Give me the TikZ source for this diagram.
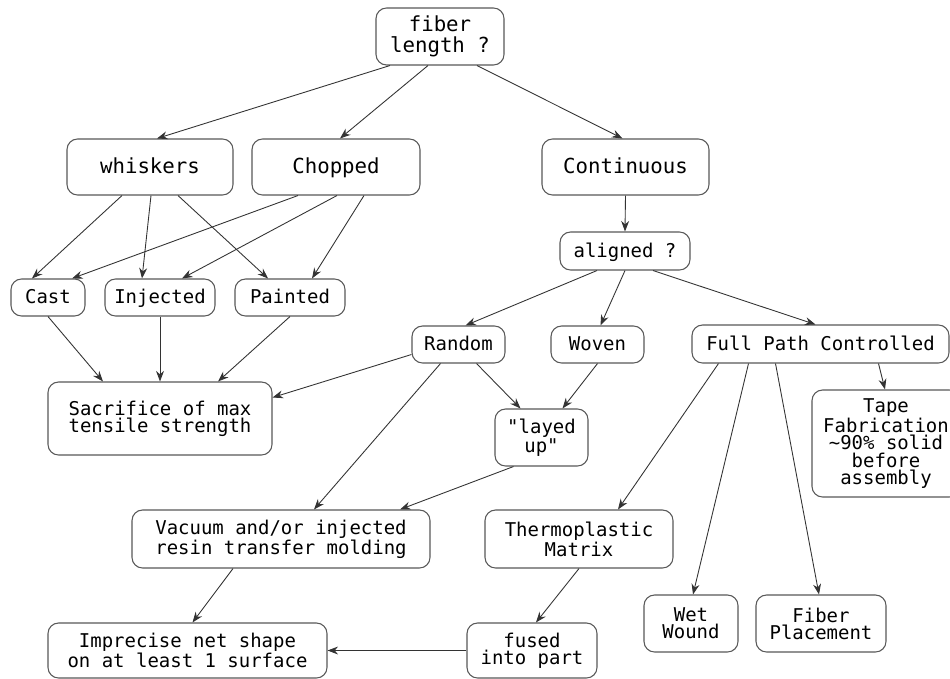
\documentclass[tikz,border=0pt]{standalone}
\usepackage{fontspec}
\usepackage{tikz}
\usetikzlibrary{calc,arrows.meta}
\newfontfamily\monofont{DejaVu Sans Mono}
\newcommand{\bigfont}{\monofont\fontsize{11.8}{12}\selectfont}
\newcommand{\boxfont}{\monofont\fontsize{10.8}{9.7}\selectfont}

\tikzset{
  box/.style={draw=black!65, line width=0.6pt, rounded corners=6pt, align=center,
    inner sep=0pt, fill=white, font=\boxfont},
  bigbox/.style={box, font=\bigfont},
  oneline/.style={text height=0.9em, text depth=0.2em},
  wh/.style 2 args={minimum width=#1*0.02cm, minimum height=#2*0.02cm},
  link/.style={draw=black!80, line width=0.5pt, -{Stealth[length=6pt,width=4.5pt]}}
}

\begin{document}
\begin{tikzpicture}[x=0.02cm,y=-0.02cm]
\clip (0,0) rectangle (950,679);
\fill[white] (0,0) rectangle (950,679);
% top levels
\node[bigbox,wh={128}{57}] (fiber) at (440,36.5) {fiber\\length ?};
\node[bigbox,oneline,wh={166}{56}] (whiskers) at (150,167) {whiskers};
\node[bigbox,oneline,wh={168}{56}] (chopped) at (336,167) {Chopped};
\node[bigbox,oneline,wh={167}{56}] (continuous) at (625.5,167) {Continuous};
\node[box,oneline,wh={130}{38}] (aligned) at (625,251) {aligned ?};
% short fibers
\node[box,oneline,wh={74}{37}] (cast) at (48,297.5) {Cast};
\node[box,oneline,wh={110}{37}] (injected) at (160,297.5) {Injected};
\node[box,oneline,wh={110}{37}] (painted) at (290,297.5) {Painted};
\node[box,wh={224}{73}] (sacrifice) at (160,418.5) {Sacrifice of max\\tensile strength};
% continuous fibers
\node[box,oneline,wh={93}{37}] (random) at (458.5,344.5) {Random};
\node[box,oneline,wh={93}{37}] (woven) at (597.5,344.5) {Woven};
\node[box,oneline,wh={257}{38}] (fullpath) at (820.5,344) {Full Path Controlled};
\node[box,wh={93}{57}] (layedup) at (541.5,437.5) {"layed\\up"};
\node[box,wh={148}{107}] (tape) at (886,443.5) {Tape\\Fabrication\\\textasciitilde90\% solid\\before\\assembly};
\node[box,wh={298}{58}] (vacuum) at (281,539) {Vacuum and/or injected\\resin transfer molding};
\node[box,wh={188}{58}] (thermo) at (579,539) {Thermoplastic\\Matrix};
\node[box,wh={94}{57}] (wet) at (691,623.5) {Wet\\Wound};
\node[box,wh={130}{57}] (placement) at (821,623.5) {Fiber\\Placement};
\node[box,wh={279}{55}] (imprecise) at (187.5,650.5) {Imprecise net shape\\on at least 1 surface};
\node[box,wh={130}{55}] (fused) at (532,650.5) {fused\\into part};

% connectors
\draw[link] ($(fiber.south)+(-50,0)$) -- ($(whiskers.north)+(7,0)$);
\draw[link] ($(fiber.south)+(-12,0)$) -- ($(chopped.north)+(4,0)$);
\draw[link] ($(fiber.south)+(37,0)$) -- ($(continuous.north)+(-3,0)$);
\draw[link] ($(whiskers.south)+(-28,0)$) -- ($(cast.north)+(-16,0)$);
\draw[link] ($(whiskers.south)+(1,0)$) -- ($(injected.north)+(-18,0)$);
\draw[link] ($(whiskers.south)+(28,0)$) -- ($(painted.north)+(-22,0)$);
\draw[link] ($(chopped.south)+(-38,0)$) -- ($(cast.north)+(24,0)$);
\draw[link] ($(chopped.south)+(1,0)$) -- ($(injected.north)+(22,0)$);
\draw[link] ($(chopped.south)+(28,0)$) -- ($(painted.north)+(22,0)$);
\draw[link] (cast.south) -- ($(sacrifice.north)+(-57,0)$);
\draw[link] (injected.south) -- (sacrifice.north);
\draw[link] (painted.south) -- ($(sacrifice.north)+(58,0)$);
\draw[link] (continuous.south) -- (aligned.north);
\draw[link] ($(aligned.south)+(-28,0)$) -- ($(random.north)+(7,0)$);
\draw[link] (aligned.south) -- ($(woven.north)+(3,0)$);
\draw[link] ($(aligned.south)+(28,0)$) -- ($(fullpath.north)+(-5,0)$);
\draw[link] ($(random.west)+(0,10)$) -- ($(sacrifice.east)+(0,-21)$);
\draw[link] ($(random.south)+(-18,0)$) -- ($(vacuum.north)+(33,0)$);
\draw[link] ($(random.south)+(18,0)$) -- ($(layedup.north)+(-21,0)$);
\draw[link] (woven.south) -- ($(layedup.north)+(21,0)$);
\draw[link] ($(layedup.south)+(-28,0)$) -- ($(vacuum.north)+(119,0)$);
\draw[link] ($(fullpath.south)+(-102,0)$) -- ($(thermo.north)+(39,0)$);
\draw[link] ($(fullpath.south)+(-72,0)$) -- ($(wet.north)+(2,0)$);
\draw[link] ($(fullpath.south)+(-45,0)$) -- ($(placement.north)+(-2,0)$);
\draw[link] ($(fullpath.south)+(58,0)$) -- ($(tape.north)+(-1,0)$);
\draw[link] ($(vacuum.south)+(-48,0)$) -- ($(imprecise.north)+(5,0)$);
\draw[link] (thermo.south) -- ($(fused.north)+(4,0)$);
\draw[link] (fused.west) -- (imprecise.east);
\end{tikzpicture}
\end{document}
